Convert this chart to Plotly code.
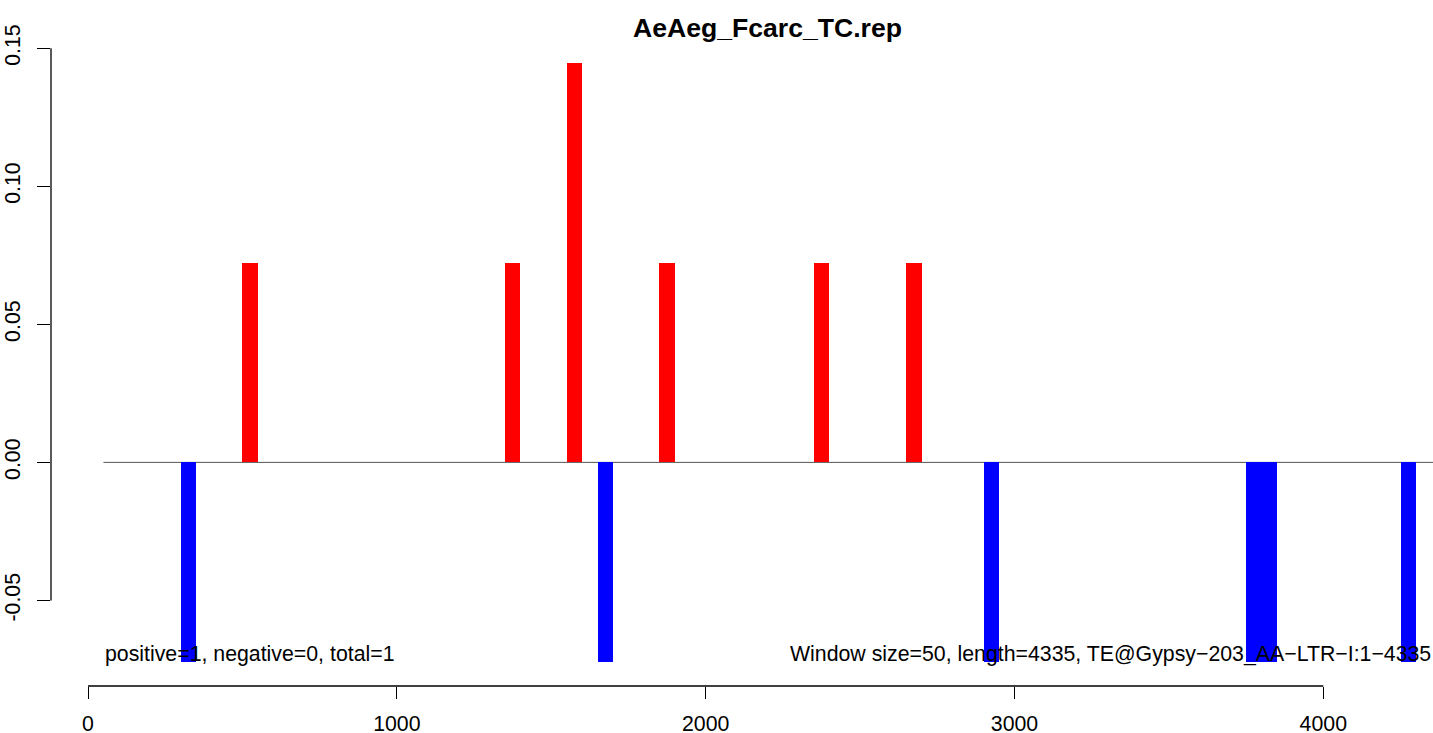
import plotly.graph_objects as go

# Data (window start positions, window size 50)
window_size = 50
pos_starts = [500, 1350, 1550, 1850, 2350, 2650]
pos_values = [0.0723, 0.0723, 0.1445, 0.0723, 0.0723, 0.0723]
neg_starts = [300, 1650, 2900, 3750, 3800, 4250]
neg_values = [-0.0723, -0.0723, -0.0723, -0.0723, -0.0723, -0.0723]
x_ticks = [0, 1000, 2000, 3000, 4000]
y_ticks = [-0.05, 0.00, 0.05, 0.10, 0.15]
title_text = "AeAeg_Fcarc_TC.rep"
left_note = "positive=1, negative=0, total=1"
right_note = "Window size=50, length=4335, TE@Gypsy\u2212203_AA\u2212LTR\u2212I:1\u22124335"

FONT = "Liberation Sans, Arial, Helvetica, sans-serif"
FS = 21.3

fig = go.Figure()
fig.add_trace(go.Bar(
    x=[s + window_size / 2 for s in pos_starts], y=pos_values, width=window_size,
    marker=dict(color="#FF0000", line=dict(width=0)), showlegend=False))
fig.add_trace(go.Bar(
    x=[s + window_size / 2 for s in neg_starts], y=neg_values, width=window_size,
    marker=dict(color="#0000FF", line=dict(width=0)), showlegend=False))

# zero line
fig.add_shape(type="line", xref="x", yref="y", x0=50, x1=4500, y0=0, y1=0,
              line=dict(color="#555555", width=1), layer="below")
# axis lines (R style, only spanning the tick range)
fig.add_shape(type="line", xref="paper", yref="y", x0=0, x1=0, y0=y_ticks[0], y1=y_ticks[-1],
              line=dict(color="black", width=1.3))
fig.add_shape(type="line", xref="x", yref="paper", x0=x_ticks[0], x1=x_ticks[-1], y0=0, y1=0,
              line=dict(color="black", width=1.3))

fig.add_annotation(text="<b>" + title_text + "</b>", xref="paper", yref="paper",
                   x=0.5185, y=1.0193, xanchor="center", yanchor="middle", showarrow=False,
                   font=dict(family=FONT, size=26.6, color="black"))
fig.add_annotation(text=left_note, xref="x", yref="y", x=50, y=-0.0693,
                   xanchor="left", yanchor="middle", showarrow=False,
                   font=dict(family=FONT, size=FS, color="black"))
fig.add_annotation(text=right_note, xref="paper", yref="y", x=1.0, y=-0.0693,
                   xanchor="right", yanchor="middle", showarrow=False,
                   font=dict(family=FONT, size=FS, color="black"))

fig.update_layout(
    width=1433, height=733,
    margin=dict(l=51, r=0, t=40, b=47, pad=0),
    paper_bgcolor="white", plot_bgcolor="white",
    font=dict(family=FONT, size=FS, color="black"),
    bargap=0, barmode="overlay",
    xaxis=dict(range=[-119.8, 4355.2], tickvals=x_ticks, ticktext=[str(v) for v in x_ticks],
               showgrid=False, zeroline=False, showline=False, automargin=False,
               ticks="outside", ticklen=12, tickwidth=1.3, tickcolor="black",
               ticklabelstandoff=6,
               tickfont=dict(family=FONT, size=FS, color="black")),
    yaxis=dict(range=[-0.0810, 0.1530], tickvals=y_ticks, ticktext=["%.2f" % v for v in y_ticks],
               showgrid=False, zeroline=False, showline=False, automargin=False,
               ticks="outside", ticklen=13, tickwidth=1.3, tickcolor="black", tickangle=-90,
               ticklabelstandoff=8,
               tickfont=dict(family=FONT, size=FS, color="black")),
)

fig.write_html("out.html", config={"displayModeBar": False},
               post_script="document.body.style.margin='0';document.body.style.padding='0';document.body.style.overflow='hidden';")
